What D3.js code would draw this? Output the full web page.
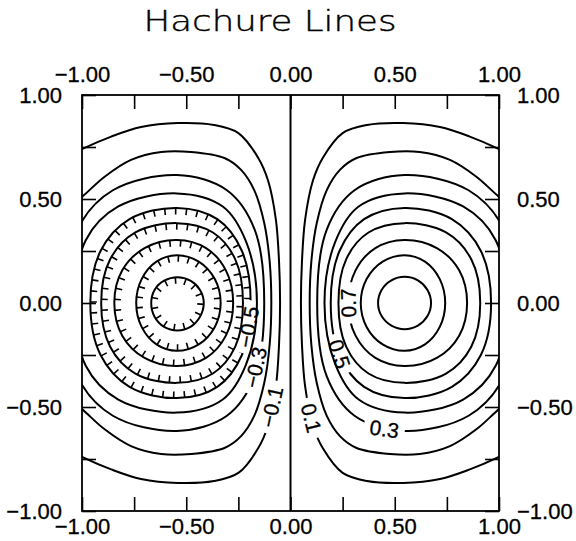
<!DOCTYPE html>
<html>
<head>
<meta charset="utf-8">
<script src="https://cdn.jsdelivr.net/npm/d3@7"></script>
<style>
  body { margin: 0; background: #fff; }
</style>
</head>
<body>
<div id="chart-container"></div>
<script>
const width = 576;
const height = 541;

// axis ticks and labels
const tickValues = [-1, -0.75, -0.5, -0.25, 0, 0.25, 0.5, 0.75, 1];
const labelValues = [-1, -0.5, 0, 0.5, 1];

// contour lines, [x, y] in data units
const c0 = [[0, -1], [0, 1]];

const cP1 = [[1.4,0],[1.3,0.45],[1.15,0.66],[1.0,0.74],[0.86,0.8],[0.717,0.846],[0.54,0.865],[0.367,0.856],[0.25,0.817],[0.156,0.7],[0.108,0.59],[0.07,0.4],[0.055,0.2],[0.05,0],
  [0.055,-0.2],[0.07,-0.4],[0.108,-0.59],[0.156,-0.7],[0.25,-0.817],[0.367,-0.856],[0.54,-0.865],[0.717,-0.846],[0.86,-0.8],[1.0,-0.74],[1.15,-0.66],[1.3,-0.45]];
const cP2 = [[1.23,0],[1.2,0.25],[1.1,0.43],[1.0,0.51],[0.893,0.606],[0.765,0.688],[0.62,0.726],[0.477,0.726],[0.317,0.697],[0.237,0.64],[0.174,0.543],[0.126,0.385],[0.1,0.2],[0.092,0],
  [0.1,-0.2],[0.126,-0.385],[0.174,-0.543],[0.237,-0.64],[0.317,-0.697],[0.477,-0.726],[0.62,-0.726],[0.765,-0.688],[0.893,-0.606],[1.0,-0.51],[1.1,-0.43],[1.2,-0.25]];
const cP3 = [[1.082,0],[1.024,0.353],[0.854,0.542],[0.547,0.615],[0.307,0.542],[0.174,0.353],[0.128,0],
  [0.174,-0.353],[0.307,-0.542],[0.547,-0.615],[0.854,-0.542],[1.024,-0.353]];
const cP4 = [[1.037,0],[0.984,0.302],[0.828,0.464],[0.547,0.527],[0.327,0.464],[0.215,0.295],[0.163,0],
  [0.215,-0.295],[0.327,-0.464],[0.547,-0.527],[0.828,-0.464],[0.984,-0.302]];
const cP5 = [[0.962,0],[0.913,0.25],[0.774,0.403],[0.547,0.457],[0.353,0.403],[0.235,0.25],[0.193,0],
  [0.235,-0.25],[0.353,-0.403],[0.547,-0.457],[0.774,-0.403],[0.913,-0.25]];
const cP6 = [[0.91,0],[0.867,0.21],[0.746,0.339],[0.547,0.384],[0.374,0.339],[0.267,0.21],[0.23,0],
  [0.267,-0.21],[0.374,-0.339],[0.547,-0.384],[0.746,-0.339],[0.867,-0.21]];
const cP7 = [[0.847,0],[0.809,0.157],[0.702,0.264],[0.547,0.303],[0.407,0.264],[0.312,0.157],[0.277,0],
  [0.312,-0.157],[0.407,-0.264],[0.547,-0.303],[0.702,-0.264],[0.809,-0.157]];
const cP8 = [[0.742,0],[0.716,0.115],[0.645,0.199],[0.547,0.23],[0.442,0.199],[0.365,0.115],[0.337,0],
  [0.365,-0.115],[0.442,-0.199],[0.547,-0.23],[0.645,-0.199],[0.716,-0.115]];
const cP9 = [[0.674,0],[0.657,0.063],[0.611,0.109],[0.547,0.126],[0.484,0.109],[0.437,0.063],[0.42,0],
  [0.437,-0.063],[0.484,-0.109],[0.547,-0.126],[0.611,-0.109],[0.657,-0.063]];

const cM1 = [[-1.4,0],[-1.3,0.45],[-1.15,0.66],[-1.0,0.74],[-0.86,0.8],[-0.717,0.846],[-0.54,0.865],[-0.367,0.856],[-0.25,0.817],[-0.156,0.7],[-0.108,0.59],[-0.07,0.4],[-0.055,0.2],[-0.05,0],
  [-0.055,-0.2],[-0.07,-0.4],[-0.108,-0.59],[-0.156,-0.7],[-0.25,-0.817],[-0.367,-0.856],[-0.54,-0.865],[-0.717,-0.846],[-0.86,-0.8],[-1.0,-0.74],[-1.15,-0.66],[-1.3,-0.45]];
const cM2 = [[-1.23,0],[-1.2,0.25],[-1.1,0.43],[-1.0,0.51],[-0.893,0.606],[-0.765,0.688],[-0.62,0.726],[-0.477,0.726],[-0.317,0.697],[-0.237,0.64],[-0.174,0.543],[-0.126,0.385],[-0.1,0.2],[-0.092,0],
  [-0.1,-0.2],[-0.126,-0.385],[-0.174,-0.543],[-0.237,-0.64],[-0.317,-0.697],[-0.477,-0.726],[-0.62,-0.726],[-0.765,-0.688],[-0.893,-0.606],[-1.0,-0.51],[-1.1,-0.43],[-1.2,-0.25]];
const cM3 = [[-1.08,0],[-1.022,0.353],[-0.852,0.542],[-0.545,0.615],[-0.305,0.542],[-0.172,0.353],[-0.126,0],
  [-0.172,-0.353],[-0.305,-0.542],[-0.545,-0.615],[-0.852,-0.542],[-1.022,-0.353]];
const cM4 = [[-1.035,0],[-0.982,0.302],[-0.826,0.464],[-0.545,0.527],[-0.325,0.464],[-0.213,0.295],[-0.161,0],
  [-0.213,-0.295],[-0.325,-0.464],[-0.545,-0.527],[-0.826,-0.464],[-0.982,-0.302]];
const cM5 = [[-0.96,0],[-0.911,0.25],[-0.772,0.403],[-0.545,0.457],[-0.351,0.403],[-0.233,0.25],[-0.191,0],
  [-0.233,-0.25],[-0.351,-0.403],[-0.545,-0.457],[-0.772,-0.403],[-0.911,-0.25]];
const cM6 = [[-0.908,0],[-0.865,0.21],[-0.744,0.339],[-0.545,0.384],[-0.372,0.339],[-0.265,0.21],[-0.228,0],
  [-0.265,-0.21],[-0.372,-0.339],[-0.545,-0.384],[-0.744,-0.339],[-0.865,-0.21]];
const cM7 = [[-0.845,0],[-0.807,0.157],[-0.7,0.264],[-0.545,0.303],[-0.405,0.264],[-0.31,0.157],[-0.275,0],
  [-0.31,-0.157],[-0.405,-0.264],[-0.545,-0.303],[-0.7,-0.264],[-0.807,-0.157]];
const cM8 = [[-0.74,0],[-0.714,0.115],[-0.643,0.199],[-0.545,0.23],[-0.44,0.199],[-0.363,0.115],[-0.335,0],
  [-0.363,-0.115],[-0.44,-0.199],[-0.545,-0.23],[-0.643,-0.199],[-0.714,-0.115]];
const cM9 = [[-0.668,0],[-0.652,0.063],[-0.606,0.107],[-0.542,0.124],[-0.48,0.107],[-0.434,0.063],[-0.416,0],
  [-0.434,-0.066],[-0.48,-0.115],[-0.542,-0.132],[-0.606,-0.115],[-0.652,-0.066]];

const levels = [-0.9, -0.8, -0.7, -0.6, -0.5, -0.4, -0.3, -0.2, -0.1, 0, 0.1, 0.2, 0.3, 0.4, 0.5, 0.6, 0.7, 0.8, 0.9];
const lines = [cM9, cM8, cM7, cM6, cM5, cM4, cM3, cM2, cM1, c0, cP1, cP2, cP3, cP4, cP5, cP6, cP7, cP8, cP9];
const hachureLevels = [-0.9, -0.8, -0.7, -0.6, -0.5];

// contour labels
const labelLevels = [0.1, 0.3, 0.5, 0.7, -0.1, -0.3, -0.5];
const labelX = [0.1, 0.45, 0.235, 0.277, -0.09, -0.168, -0.203];
const labelY = [-0.553, -0.605, -0.245, 0.0, -0.5, -0.31, -0.115];
const labelAngle = [76, 8, 72, -92, -78, -78, -80];

const svg = d3.select("#chart-container").append("svg")
  .attr("width", width)
  .attr("height", height)
  .style("background", "#fff");

const x = d3.scaleLinear().domain([-1, 1]).range([82, 499]);
const y = d3.scaleLinear().domain([-1, 1]).range([511, 95]);

const defs = svg.append("defs");
defs.append("clipPath").attr("id", "frameClip")
  .append("rect")
  .attr("x", x(-1)).attr("y", y(1))
  .attr("width", x(1) - x(-1)).attr("height", y(-1) - y(1));

const closedLine = d3.line()
  .x(d => x(d[0]))
  .y(d => y(d[1]))
  .curve(d3.curveCatmullRomClosed.alpha(0.5));
const straightLine = d3.line().x(d => x(d[0])).y(d => y(d[1]));

const labelFont = "'Liberation Sans', Arial, Helvetica, sans-serif";
const fmtLevel = d3.format(".1f");

// draw labels first so their width can be measured for the gaps
let gLabels = svg.append("g")
  .attr("font-family", labelFont)
  .attr("font-size", 21)
  .attr("fill", "#000")
  .attr("stroke", "#000")
  .attr("stroke-width", 0.3);

let labelInfo = {};
labelLevels.forEach((lv, i) => {
  const px = x(labelX[i]), py = y(labelY[i]);
  const t = gLabels.append("text")
    .attr("transform", `translate(${px},${py}) rotate(${labelAngle[i]})`)
    .attr("text-anchor", "middle")
    .attr("dy", "0.36em")
    .text(fmtLevel(lv));
  labelInfo[lv] = { px: px, py: py, a: labelAngle[i], w: t.node().getComputedTextLength() };
});

let gContours = svg.insert("g", "g").attr("clip-path", "url(#frameClip)");

levels.forEach((lv, i) => {
  let g = gContours.append("g");
  const info = labelInfo[lv];
  if (info) {
    const id = "gap" + i;
    const m = defs.append("mask").attr("id", id)
      .attr("maskUnits", "userSpaceOnUse")
      .attr("x", 0).attr("y", 0).attr("width", width).attr("height", height);
    m.append("rect").attr("width", width).attr("height", height).attr("fill", "white");
    m.append("rect")
      .attr("x", -info.w / 2 - 6).attr("y", -9)
      .attr("width", info.w + 12).attr("height", 18)
      .attr("fill", "black")
      .attr("transform", `translate(${info.px},${info.py}) rotate(${info.a})`);
    g.attr("mask", `url(#${id})`);
  }

  const pts = lines[i];
  const path = g.append("path")
    .attr("d", lv === 0 ? straightLine(pts) : closedLine(pts))
    .attr("fill", "none")
    .attr("stroke", "#000")
    .attr("stroke-width", 2);

  if (hachureLevels.includes(lv)) {
    const node = path.node();
    const L = node.getTotalLength();
    const n = Math.round(L / 11);
    const step = L / n;
    const cx = d3.mean(pts, d => x(d[0]));
    const cy = d3.mean(pts, d => y(d[1]));
    for (let k = 0; k < n; k++) {
      const s = k * step + 3;
      const p = node.getPointAtLength(s);
      const q = node.getPointAtLength(Math.min(s + 1, L));
      let tx = q.x - p.x, ty = q.y - p.y;
      const len = Math.hypot(tx, ty) || 1;
      tx /= len; ty /= len;
      let nx = -ty, ny = tx;
      if ((cx - p.x) * nx + (cy - p.y) * ny < 0) { nx = -nx; ny = -ny; }
      g.append("line")
        .attr("x1", p.x).attr("y1", p.y)
        .attr("x2", p.x + nx * 6.5).attr("y2", p.y + ny * 6.5)
        .attr("stroke", "#000")
        .attr("stroke-width", 1.6);
    }
  }
});

// frame
svg.append("rect")
  .attr("x", x(-1)).attr("y", y(1))
  .attr("width", x(1) - x(-1)).attr("height", y(-1) - y(1))
  .attr("fill", "none")
  .attr("stroke", "#000")
  .attr("stroke-width", 1.8);

// axes on all four sides, ticks pointing inward
const fmtTick = d => labelValues.includes(d) ? d3.format(".2f")(d) : "";
const styleAxis = g => {
  g.select(".domain").remove();
  g.selectAll(".tick line").attr("stroke", "#000").attr("stroke-width", 1.6);
  g.selectAll(".tick text").attr("fill", "#000").attr("stroke", "#000").attr("stroke-width", 0.3);
  g.attr("font-family", labelFont).attr("font-size", 22);
};

svg.append("g")
  .attr("transform", `translate(0,${y(1)})`)
  .call(d3.axisTop(x).tickValues(tickValues).tickFormat(fmtTick).tickSize(-14).tickPadding(13))
  .call(styleAxis);
svg.append("g")
  .attr("transform", `translate(0,${y(-1)})`)
  .call(d3.axisBottom(x).tickValues(tickValues).tickFormat(fmtTick).tickSize(-14).tickPadding(7))
  .call(styleAxis);
svg.append("g")
  .attr("transform", `translate(${x(-1)},0)`)
  .call(d3.axisLeft(y).tickValues(tickValues).tickFormat(fmtTick).tickSize(-14).tickPadding(20))
  .call(styleAxis);
svg.append("g")
  .attr("transform", `translate(${x(1)},0)`)
  .call(d3.axisRight(y).tickValues(tickValues).tickFormat(fmtTick).tickSize(-14).tickPadding(18))
  .call(styleAxis);

// title
svg.append("text")
  .attr("x", 270)
  .attr("y", 31)
  .attr("text-anchor", "middle")
  .attr("font-family", "'DejaVu Sans', 'Liberation Sans', sans-serif")
  .attr("font-weight", 200)
  .attr("font-size", 29)
  .attr("textLength", 253)
  .attr("lengthAdjust", "spacingAndGlyphs")
  .attr("fill", "#000")
  .attr("stroke", "#000")
  .attr("stroke-width", 0.4)
  .text("Hachure Lines");
</script>
</body>
</html>
